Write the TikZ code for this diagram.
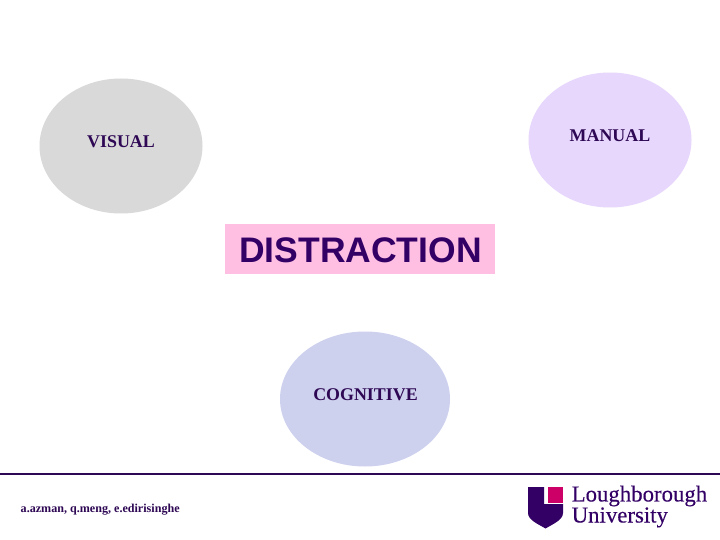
\documentclass[tikz,border=0pt]{standalone}
\usepackage{fontspec}
\setmainfont{Liberation Serif}
\newfontfamily\arialf{Liberation Sans}
\newfontfamily\logof[FakeBold=0.25]{Liberation Serif}
\usetikzlibrary{shapes.geometric}
\definecolor{ink}{HTML}{2E0854}
\definecolor{logoink}{HTML}{330066}
\definecolor{logopink}{HTML}{CC0066}
\definecolor{greyblob}{HTML}{D9D9D9}
\definecolor{lilacblob}{HTML}{E7D7FC}
\definecolor{blueblob}{HTML}{CDD1EE}
\definecolor{pinkbox}{HTML}{FFBFE3}
\tikzset{
  x=1pt,y=-1pt,
  blob/.style={ellipse,minimum width=163pt,minimum height=135pt,inner sep=0pt,draw=none},
  blobtext/.style={font=\bfseries\fontsize{17.9}{20}\selectfont,text=ink,inner sep=0pt,anchor=base},
  logotext/.style={font=\logof\fontsize{22.8}{19}\selectfont,text=logoink,inner sep=0pt,align=left,anchor=base west},
}
\begin{document}
\begin{tikzpicture}
\useasboundingbox[fill=white] (0,0) rectangle (720,540);
\node[blob,fill=greyblob] (visual) at (121,146) {};
\node[blob,fill=lilacblob] (manual) at (610,140) {};
\node[blob,fill=blueblob,minimum width=170pt] (cognitive) at (365,399) {};
\node[blobtext] (visualtext) at (121,148) {VISUAL};
\node[blobtext] (manualtext) at (610,142) {MANUAL};
\node[blobtext] (cognitivetext) at (365.5,400) {COGNITIVE};
\node[fill=pinkbox,minimum width=270pt,minimum height=49pt,inner sep=0pt] (box) at (360,249) {};
\node[font=\arialf\bfseries\fontsize{35.5}{38}\selectfont,text=logoink,inner sep=0pt,anchor=base] (title) at (360.5,262) {DISTRACTION};
\coordinate (ruleL) at (0,473.5);
\coordinate (ruleR) at (720,473.5);
\draw[ink,line width=2pt] (ruleL) -- (ruleR);
\node[font=\bfseries\fontsize{12.1}{14}\selectfont,text=ink,inner sep=0pt,anchor=base west] (authors) at (20.5,512) {a.azman, q.meng, e.edirisinghe};
\fill[logoink] (528,487) -- (544,487) -- (544,504) -- (563,504) -- (563,513)
  .. controls (563,520) and (553,524) .. (545.5,528.5)
  .. controls (538,524) and (528,520) .. (528,513) -- cycle;
\fill[logopink] (548,487) rectangle (563,503);
\node[logotext] (logo) at (571.5,522.5) {Loughborough\\University};
\end{tikzpicture}
\end{document}
